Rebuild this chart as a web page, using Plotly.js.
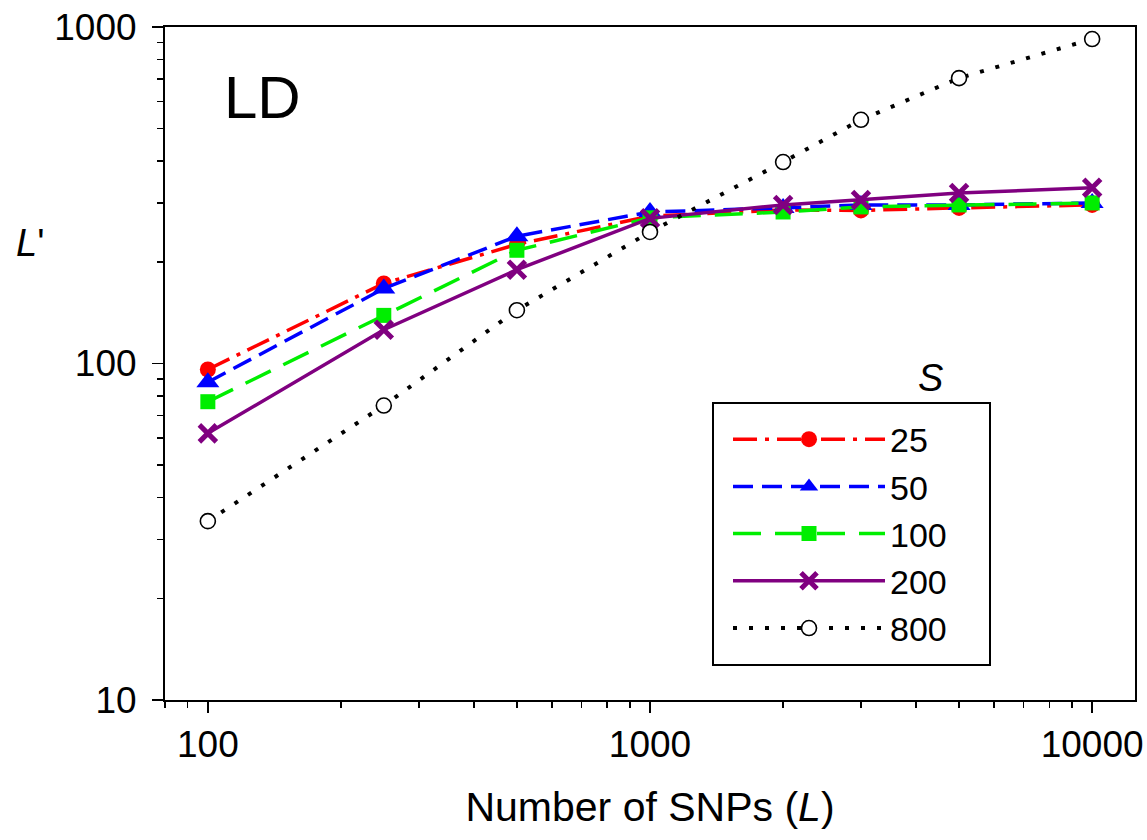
<!DOCTYPE html>
<html>
<head>
<meta charset="utf-8">
<script src="https://cdn.plot.ly/plotly-3.0.1.min.js"></script>
<style>html,body{margin:0;padding:0;background:#fff;}#chart{width:1147px;height:840px;}</style>
</head>
<body>
<div id="chart"></div>
<script>
// Data
const snps = [100, 250, 500, 1000, 2000, 3000, 5000, 10000];
const seriesNames = ["25", "50", "100", "200", "800"];
const s25  = [96, 173, 226, 274, 286, 285, 290, 296];
const s50  = [88, 167, 239, 282, 290, 296, 296, 300];
const s100 = [77, 139, 217, 271, 282, 292, 296, 300];
const s200 = [62, 126, 190, 270, 296, 306, 321, 333];
const s800 = [34, 75, 144, 246, 397, 530, 705, 921];
const xTickVals = [100, 1000, 10000];
const xTickText = ["100", "1000", "10000"];
const yTickVals = [10, 100, 1000];
const yTickText = ["10", "100", "1000"];

const styles = [
  {color: "#ff0000", dash: "24px,8px,4px,8px", width: 3.5, symbol: "circle", size: 16, mcolor: "#ff0000", lcolor: "#ff0000", lw: 0},
  {color: "#0000ff", dash: "20px,9px", width: 3.5, symbol: "triangle-up", size: 20, mcolor: "#0000ff", lcolor: "#0000ff", lw: 0},
  {color: "#00ee00", dash: "28px,14px", width: 3.5, symbol: "square", size: 15, mcolor: "#00ee00", lcolor: "#00ee00", lw: 0},
  {color: "#800080", dash: "solid", width: 3.5, symbol: "x-thin", size: 17, mcolor: "#800080", lcolor: "#800080", lw: 5},
  {color: "#000000", dash: "4px,12px", width: 4, symbol: "circle", size: 15, mcolor: "#ffffff", lcolor: "#000000", lw: 1.6}
];
const ys = [s25, s50, s100, s200, s800];

const traces = ys.map((y, i) => ({
  x: snps, y: y, name: seriesNames[i], type: "scatter", mode: "lines+markers",
  legendgroup: "g" + i,
  line: {color: styles[i].color, dash: styles[i].dash, width: styles[i].width},
  marker: {symbol: styles[i].symbol, size: styles[i].size, color: styles[i].mcolor,
           line: {color: styles[i].lcolor, width: styles[i].lw}}
}));

const FONT = "Liberation Sans, Arial, sans-serif";
const layout = {
  width: 1147, height: 840,
  margin: {l: 165, r: 12, t: 27, b: 140},
  paper_bgcolor: "#ffffff", plot_bgcolor: "#ffffff",
  showlegend: true,
  font: {family: FONT, color: "#000", size: 36},
  xaxis: {
    type: "log", range: [Math.log10(80), Math.log10(12500)],
    tickvals: xTickVals, ticktext: xTickText,
    ticks: "outside", ticklen: 11, tickwidth: 1.5, tickcolor: "#000",
    minor: {ticks: "outside", ticklen: 6, tickwidth: 1.5, tickcolor: "#000", dtick: "D1", showgrid: false},
    showline: true, linecolor: "#000", linewidth: 2, mirror: true,
    showgrid: false, zeroline: false,
    tickfont: {family: FONT, size: 37, color: "#000"},
    title: {text: "Number of SNPs (<i>L</i>)", font: {family: FONT, size: 41, color: "#000"}, standoff: 28}
  },
  yaxis: {
    type: "log", range: [1, 3],
    tickvals: yTickVals, ticktext: yTickText,
    ticks: "outside", ticklen: 11, tickwidth: 1.5, tickcolor: "#000",
    minor: {ticks: "outside", ticklen: 6, tickwidth: 1.5, tickcolor: "#000", dtick: "D1", showgrid: false},
    showline: true, linecolor: "#000", linewidth: 2, mirror: true,
    showgrid: false, zeroline: false,
    ticklabelstandoff: 8,
    tickfont: {family: FONT, size: 37, color: "#000"}
  },
  legend: {
    x: (728 - 165) / 970, y: 0.43, xanchor: "left", yanchor: "top",
    bgcolor: "rgba(0,0,0,0)", borderwidth: 0,
    font: {family: FONT, size: 34, color: "#000"},
    itemwidth: 152, tracegroupgap: 0, itemclick: false
  },
  shapes: [
    {type: "rect", xref: "paper", yref: "paper",
     x0: (713 - 165) / 970, x1: (990 - 165) / 970,
     y0: (700 - 665) / 673, y1: (700 - 403) / 673,
     line: {color: "#000", width: 2}, fillcolor: "rgba(0,0,0,0)", layer: "above"}
  ],
  annotations: [
    {text: "LD", xref: "paper", yref: "paper", x: (222 - 165) / 970, y: (700 - 98) / 673,
     xanchor: "left", yanchor: "middle", showarrow: false, font: {family: FONT, size: 60, color: "#000"}},
    {text: "<i>S</i>", xref: "paper", yref: "paper", x: (930 - 165) / 970, y: (700 - 378) / 673,
     xanchor: "center", yanchor: "middle", showarrow: false, font: {family: FONT, size: 38, color: "#000"}},
    {text: "<i>L</i>'", xref: "paper", yref: "paper", x: (30 - 165) / 970, y: (700 - 243) / 673,
     xanchor: "center", yanchor: "middle", showarrow: false, font: {family: FONT, size: 38, color: "#000"}}
  ]
};

Plotly.newPlot("chart", traces, layout, {displayModeBar: false, staticPlot: true});
</script>
</body>
</html>
